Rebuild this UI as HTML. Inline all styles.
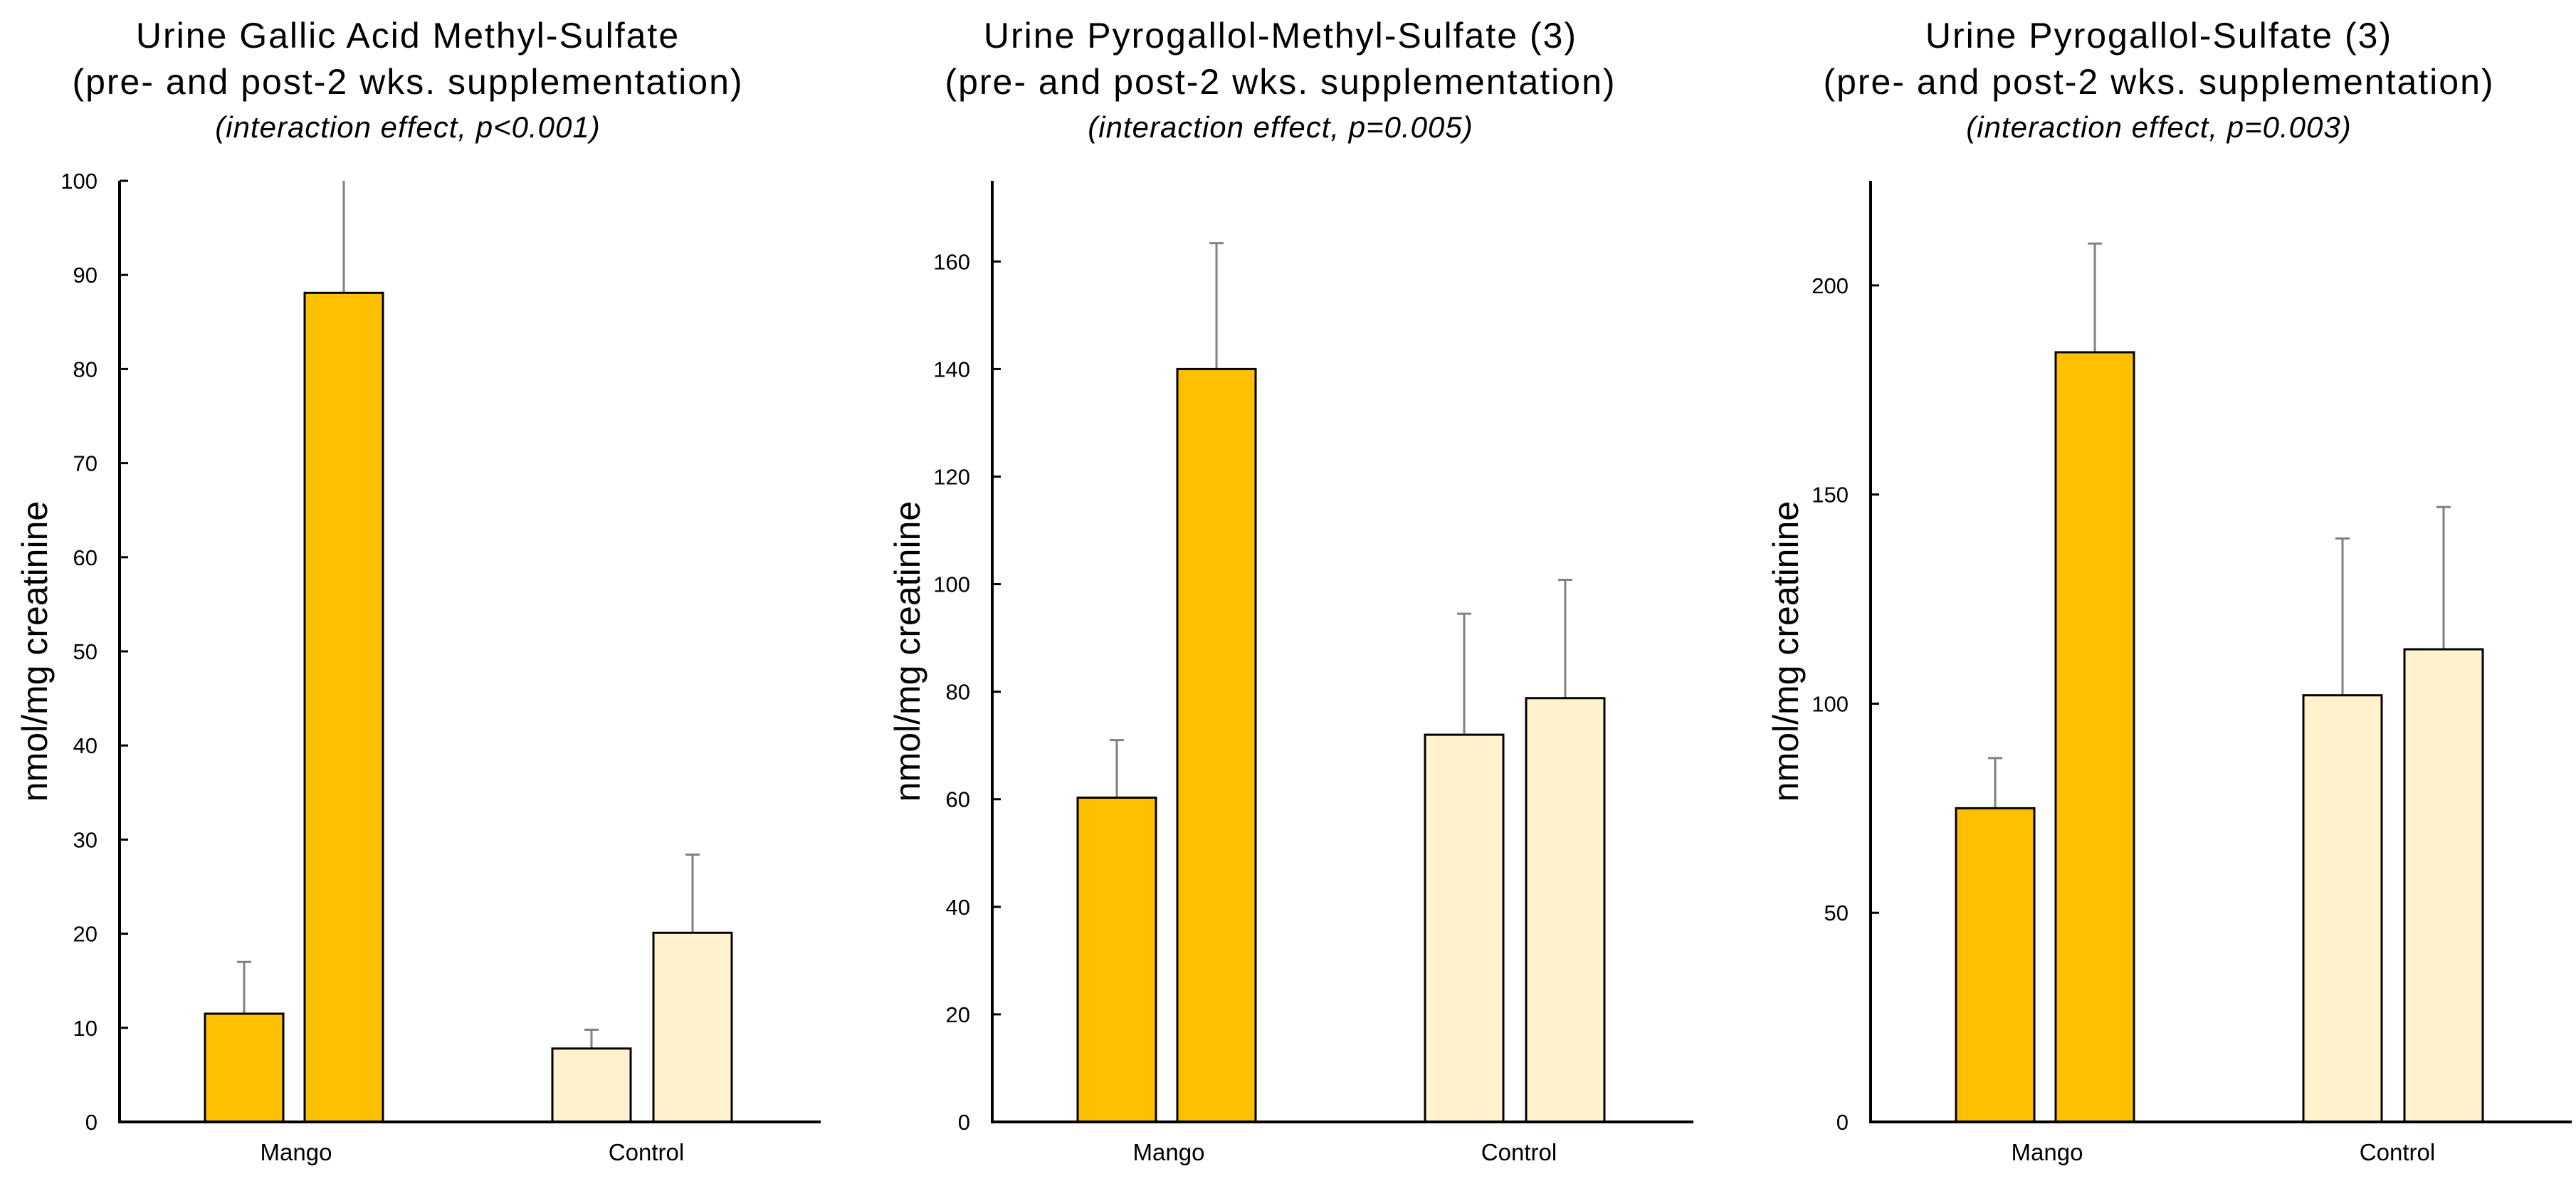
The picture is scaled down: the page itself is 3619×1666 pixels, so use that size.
<!DOCTYPE html>
<html><head><meta charset="utf-8"><style>
html,body{margin:0;padding:0;background:#fff}
svg{display:block}
text{font-family:"Liberation Sans",Arial,sans-serif;fill:#000}
</style></head><body>
<svg id="fig" width="3619" height="1666" viewBox="0 0 3619 1666" xmlns="http://www.w3.org/2000/svg"></svg>
<script>
const categories = ["Mango","Control"];
const titles1 = ["Urine Gallic Acid Methyl-Sulfate","Urine Pyrogallol-Methyl-Sulfate (3)","Urine Pyrogallol-Sulfate (3)"];
const subtitles = ["(interaction effect, p<0.001)","(interaction effect, p=0.005)","(interaction effect, p=0.003)"];
// values: [mangoPre, mangoPost, controlPre, controlPost]
const vals1 = [11.5, 88.1, 7.8, 20.1];
const err1  = [17.0, 104, 9.8, 28.4];
const vals2 = [60.3, 140.0, 72.0, 78.8];
const err2  = [71.0, 163.4, 94.5, 100.8];
const vals3 = [75.0, 184.0, 102.0, 113.0];
const err3  = [87.0, 210.0, 139.5, 147.0];
const ticks1 = [0,10,20,30,40,50,60,70,80,90,100];
const ticks2 = [0,20,40,60,80,100,120,140,160];
const ticks3 = [0,50,100,150,200];
const ymax = [100, 175, 225];

const NS="http://www.w3.org/2000/svg";
const svg=document.getElementById('fig');
function mk(tag,attrs,parent){const e=document.createElementNS(NS,tag);for(const k in attrs)e.setAttribute(k,attrs[k]);(parent||svg).appendChild(e);return e;}

const axisXs=[168,1394,2628];
const base=1576, plotTop=254, axLen=985;
const barOff=[120,260,608,750], barW=110;
const panels=[[vals1,err1,ticks1],[vals2,err2,ticks2],[vals3,err3,ticks3]];
const fills=["#FFC000","#FFC000","#FFF2CC","#FFF2CC"];

panels.forEach((p,i)=>{
  const [vals,errs,ticks]=p;
  const ax=axisXs[i];
  const g=mk('g',{});
  
  
  const y=v=>base-(Math.min(v,ymax[i])/ymax[i])*(base-plotTop);
  const cx=ax+405;
  const t1=mk('text',{x:cx,y:67,'text-anchor':'middle','font-size':50,'letter-spacing':2},g);
  t1.textContent=titles1[i];
  
  
  const t2=mk('text',{x:cx,y:132,'text-anchor':'middle','font-size':50,'letter-spacing':2},g);
  t2.textContent="(pre- and post-2 wks. supplementation)";
  
  
  const t3=mk('text',{x:cx,y:193,'text-anchor':'middle','font-size':42,'font-style':'italic','letter-spacing':1},g);
  t3.textContent=subtitles[i];
  
  
  const yl=mk('text',{x:0,y:0,'text-anchor':'middle','font-size':50,transform:`translate(${ax-102},915) rotate(-90)`},g);
  yl.textContent="nmol/mg creatinine";
  
  
  vals.forEach((v,j)=>{
    const x0=ax+barOff[j];
    const xc=x0+barW/2;
    const el=mk('line',{x1:xc,x2:xc,y1:y(v),y2:y(errs[j]),stroke:'#808080','stroke-width':3},g);
    
    
    if(errs[j]<=ymax[i]){
      const cap=mk('line',{x1:xc-10,x2:xc+10,y1:y(errs[j]),y2:y(errs[j]),stroke:'#808080','stroke-width':3},g);
      
      
    }
    const r=mk('rect',{x:x0,y:y(v),width:barW,height:base-y(v),fill:fills[j],stroke:'#000','stroke-width':3},g);
    
    
  });
  const ya=mk('line',{x1:ax,x2:ax,y1:plotTop,y2:base+2,stroke:'#000','stroke-width':4},g);
  
  
  const xa=mk('line',{x1:ax-2,x2:ax+axLen,y1:base,y2:base,stroke:'#000','stroke-width':4},g);
  
  
  ticks.forEach(t=>{
    const ty=y(t);
    const tk=mk('line',{x1:ax,x2:ax+12,y1:ty,y2:ty,stroke:'#000','stroke-width':3},g);
    
    
    const tl=mk('text',{x:ax-31,y:ty+11,'text-anchor':'end','font-size':31},g);
    tl.textContent=t;
    
    
  });
  categories.forEach((c,k)=>{
    const xl=mk('text',{x:ax+(k?740:248),y:1630,'text-anchor':'middle','font-size':33},g);
    xl.textContent=c;
    
    
  });
});
</script>
</body></html>
